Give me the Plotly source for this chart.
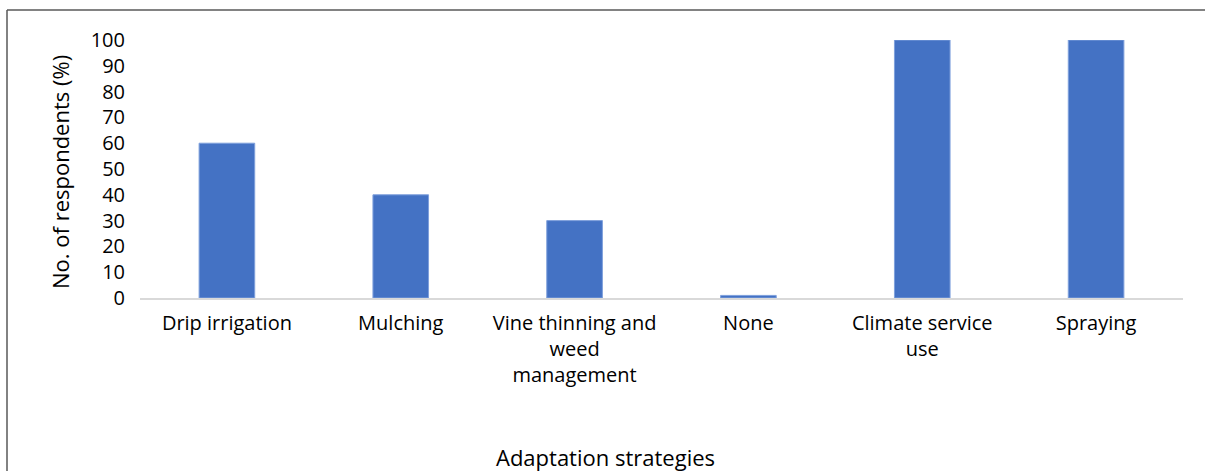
import plotly.graph_objects as go

categories = ["Drip irrigation", "Mulching", "Vine thinning and<br>weed<br>management",
              "None", "Climate service<br>use", "Spraying"]
values = [60, 40, 30, 1, 100, 100]
y_ticks = list(range(0, 101, 10))

W, H = 1205, 471
L, T = 140, 40
R = 1205 - 1183
B = 471 - 298
pw, ph = W - L - R, H - T - B
y0px = H - B  # pixel y of the axis baseline


def px_x(x):
    return (x - L) / pw


def px_y(y):
    return (y0px - y) / ph


fig = go.Figure(go.Bar(
    x=categories, y=values,
    marker=dict(color="#4472C4", line=dict(color="#7FA0DC", width=1)),
    width=0.32,
))

border = dict(color="#595959", width=1.5)
font_family = "'Open Sans', sans-serif"
fig.update_layout(
    width=W, height=H,
    margin=dict(l=L, r=R, t=T, b=B),
    paper_bgcolor="white", plot_bgcolor="white",
    showlegend=False,
    font=dict(family=font_family, color="#000000", size=20),
    xaxis=dict(showgrid=False, showline=True, linecolor="#D9D9D9", linewidth=2,
               ticks="outside", ticklen=6, tickcolor="rgba(0,0,0,0)",
               tickfont=dict(size=20), fixedrange=True),
    yaxis=dict(range=[0, 100], tickvals=y_ticks, showgrid=False, showline=False,
               zeroline=False, ticks="outside", ticklen=10, tickcolor="rgba(0,0,0,0)",
               tickfont=dict(size=20)),
    annotations=[
        dict(text="Adaptation strategies", xref="paper", yref="paper",
             x=px_x(605), y=px_y(457), xanchor="center", yanchor="middle",
             showarrow=False, font=dict(size=22)),
        dict(text="No. of respondents (%)", xref="paper", yref="paper",
             x=px_x(60), y=px_y(172), xanchor="center", yanchor="middle",
             textangle=-90, showarrow=False, font=dict(size=22)),
    ],
    shapes=[
        dict(type="line", xref="paper", yref="paper",
             x0=px_x(7), x1=px_x(1205), y0=px_y(10), y1=px_y(10),
             line=border, layer="below"),
        dict(type="line", xref="paper", yref="paper",
             x0=px_x(7), x1=px_x(7), y0=px_y(10), y1=px_y(471),
             line=border, layer="below"),
    ],
)

fig.write_html(
    "out.html",
    config={"displayModeBar": False},
    post_script="document.body.style.margin='0';document.body.style.overflow='hidden';",
)
